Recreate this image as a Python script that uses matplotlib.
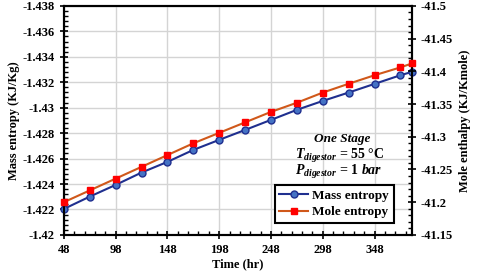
import numpy as np
import matplotlib.pyplot as plt
from matplotlib.ticker import MultipleLocator, FixedLocator

plt.rcParams['font.family'] = ['Liberation Serif', 'DejaVu Serif']
plt.rcParams['font.weight'] = 'bold'
plt.rcParams['mathtext.fontset'] = 'custom'
plt.rcParams['mathtext.rm'] = 'Liberation Serif:bold'
plt.rcParams['mathtext.it'] = 'Liberation Serif:italic:bold'
plt.rcParams['mathtext.bf'] = 'Liberation Serif:bold'

# data
time_hr = [48, 73, 98, 123, 148, 173, 198, 223, 248, 273, 298, 323, 348, 373, 384]
mass_entropy = [-1.42204, -1.42301, -1.42393, -1.4249, -1.42574, -1.42668, -1.42747,
                -1.42825, -1.42904, -1.42983, -1.43053, -1.43119, -1.43187, -1.43255,
                -1.43281]
mole_entropy = [-41.200, -41.218, -41.236, -41.254, -41.272, -41.290, -41.306, -41.322,
                -41.338, -41.352, -41.3675, -41.381, -41.394, -41.406, -41.412]

x_ticks = [48, 98, 148, 198, 248, 298, 348]
left_ticks = [-1.42, -1.422, -1.424, -1.426, -1.428, -1.43, -1.432, -1.434, -1.436, -1.438]
right_ticks = [-41.15, -41.2, -41.25, -41.3, -41.35, -41.4, -41.45, -41.5]

fig = plt.figure(figsize=(4.8, 2.8), dpi=100)
ax = fig.add_axes([0.133, 0.161, 0.725, 0.818])
ax2 = ax.twinx()

l1, = ax.plot(time_hr, mass_entropy, color='#1f2f8f', lw=1.5, marker='o', ms=5,
              mfc='#4472c4', mec='#1f2f8f', mew=1, clip_on=False, zorder=3)
l2, = ax2.plot(time_hr, mole_entropy, color='#d0581a', lw=1.5, marker='s', ms=5,
               mfc='#ff0000', mec='#ff0000', clip_on=False, zorder=3)

ax.set_xlim(48, 384)
ax.set_ylim(-1.42, -1.438)
ax2.set_ylim(-41.15, -41.5)

ax.xaxis.set_major_locator(FixedLocator(x_ticks))
ax.xaxis.set_minor_locator(FixedLocator(np.arange(58, 384, 10)))
ax.set_xticklabels([str(t) for t in x_ticks])
ax.yaxis.set_major_locator(FixedLocator(left_ticks))
ax.yaxis.set_minor_locator(MultipleLocator(0.0004))
ax.set_yticklabels(['{:g}'.format(t) for t in left_ticks])
ax2.yaxis.set_major_locator(FixedLocator(right_ticks))
ax2.yaxis.set_minor_locator(MultipleLocator(0.01))
ax2.set_yticklabels(['{:g}'.format(t) for t in right_ticks])

for a in (ax, ax2):
    a.tick_params(which='major', direction='inout', length=6, width=1.2, labelsize=9)
    a.tick_params(which='minor', direction='in', length=3, width=1)
    for s in a.spines.values():
        s.set_linewidth(1.5)

ax.grid(True, color='#d4d4d4', lw=1)
ax.set_axisbelow(True)

ax.set_xlabel('Time (hr)', fontsize=9, fontweight='bold', labelpad=2)
ax.set_ylabel('Mass entropy (KJ/Kg)', fontsize=9, fontweight='bold', labelpad=2)
ax2.set_ylabel('Mole enthalpy (KJ/Kmole)', fontsize=9, fontweight='bold', labelpad=4)

ax.text(0.799, 0.405, 'One Stage', transform=ax.transAxes, ha='center', va='baseline',
        fontsize=9.5, fontstyle='italic', fontweight='bold')
ax.text(0.664, 0.333, r'$T_{digestor}$ = 55 °C', transform=ax.transAxes,
        ha='left', va='baseline', fontsize=10)
ax.text(0.664, 0.26, r'$P_{digestor}$ = $1\ bar$', transform=ax.transAxes,
        ha='left', va='baseline', fontsize=10)

leg = ax2.legend([l1, l2], ['Mass entropy', 'Mole entropy'], loc='lower right',
                 bbox_to_anchor=(0.948, 0.052), fontsize=9.5, fancybox=False,
                 framealpha=1, edgecolor='black', borderpad=0.35, labelspacing=0.35,
                 handlelength=2.2, handletextpad=0.3, borderaxespad=0)
leg.get_frame().set_linewidth(1.5)

fig.savefig('out.png', dpi=100)
